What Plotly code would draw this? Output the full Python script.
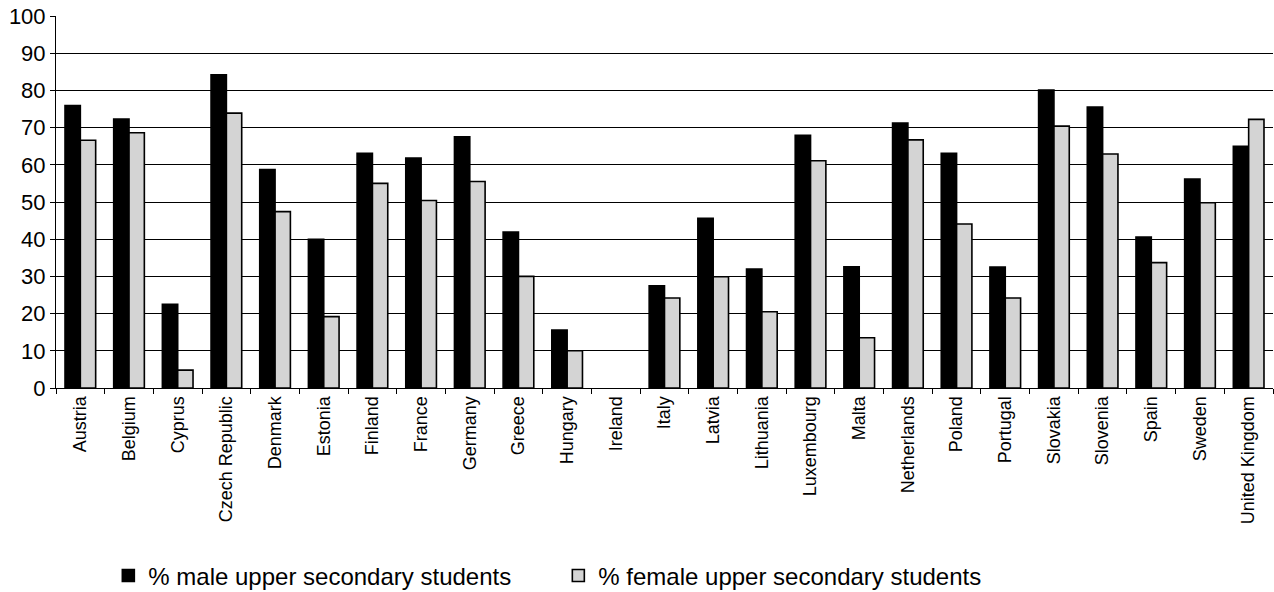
import plotly.graph_objects as go

countries = [
    "Austria", "Belgium", "Cyprus", "Czech Republic", "Denmark", "Estonia",
    "Finland", "France", "Germany", "Greece", "Hungary", "Ireland", "Italy",
    "Latvia", "Lithuania", "Luxembourg", "Malta", "Netherlands", "Poland",
    "Portugal", "Slovakia", "Slovenia", "Spain", "Sweden", "United Kingdom",
]
# Ireland: no data reported
male_pct = [
    75.9, 72.3, 22.5, 84.2, 58.7, 40.0,
    63.1, 61.8, 67.5, 41.9, 15.6, None, 27.5,
    45.6, 32.0, 67.9, 32.6, 71.2, 63.1,
    32.5, 80.1, 75.5, 40.6, 56.2, 65.0,
]
female_pct = [
    66.6, 68.6, 4.8, 73.9, 47.4, 19.2,
    55.0, 50.4, 55.5, 30.0, 10.0, None, 24.2,
    29.9, 20.5, 61.1, 13.5, 66.7, 44.1,
    24.2, 70.4, 62.9, 33.7, 49.8, 72.2,
]
y_ticks = list(range(0, 101, 10))

FONT = "Liberation Sans, Arial, sans-serif"

fig = go.Figure()
fig.add_trace(go.Bar(
    x=countries, y=male_pct, name="% male upper secondary students",
    marker=dict(color="#000000", line=dict(color="#000000", width=1.6)),
))
fig.add_trace(go.Bar(
    x=countries, y=female_pct, name="% female upper secondary students",
    marker=dict(color="#d4d4d4", line=dict(color="#000000", width=1.6)),
))

fig.update_layout(
    width=1274, height=592,
    margin=dict(l=56, r=1, t=16, b=204, autoexpand=False),
    paper_bgcolor="white", plot_bgcolor="white",
    barmode="group", bargap=0.37, bargroupgap=0,
    font=dict(family=FONT, size=16, color="black"),
    showlegend=True,
    legend=dict(
        orientation="h", x=0.043, xanchor="left", y=-0.505, yanchor="middle",
        font=dict(family=FONT, size=24, color="black"),
        entrywidth=405, entrywidthmode="pixels",
        traceorder="normal",
    ),
)
fig.update_xaxes(
    type="category", tickangle=-90, tickson="boundaries",
    ticks="outside", ticklen=5, tickcolor="black",
    showline=True, linecolor="black", linewidth=1,
    showgrid=False, automargin=False, tickfont=dict(family=FONT, size=18),
)
fig.update_yaxes(
    range=[0, 100], tickvals=y_ticks,
    ticks="outside", ticklen=5, tickcolor="black",
    showline=True, linecolor="black", linewidth=1,
    showgrid=True, gridcolor="black", gridwidth=1,
    zeroline=False, automargin=False, tickfont=dict(family=FONT, size=22),
)

fig.write_html("out.html")
